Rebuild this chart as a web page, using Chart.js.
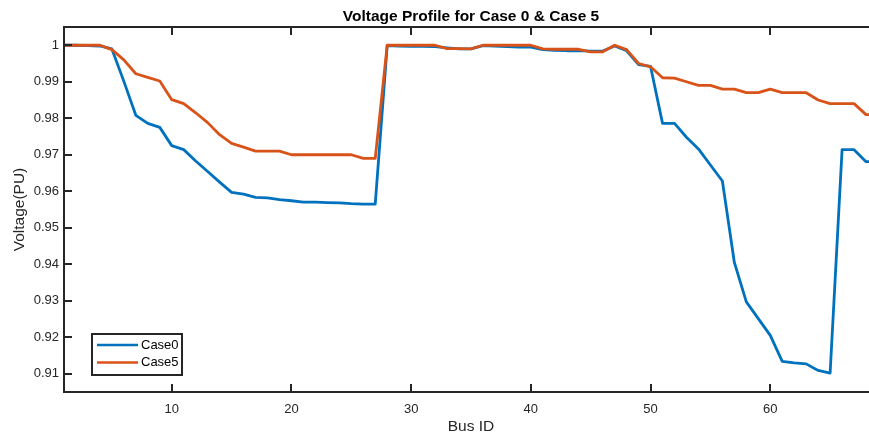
<!DOCTYPE html>
<html>
<head>
<meta charset="utf-8">
<title>Voltage Profile</title>
<script src="https://cdn.jsdelivr.net/npm/chart.js@4.4.1/dist/chart.umd.min.js"></script>
<style>
    html, body { margin: 0; padding: 0; background: #fff; overflow: hidden; }
    #wrap { width: 879px; height: 436px; position: relative; }
</style>
</head>
<body>
<div id="wrap"><canvas id="perfil"></canvas></div>
<script>
const busIds = [
    1, 2, 3, 4, 5, 6, 7, 8, 9, 10, 11, 12, 13, 14, 15, 16, 17, 18, 19, 20,
    21, 22, 23, 24, 25, 26, 27, 28, 29, 30, 31, 32, 33, 34, 35, 36, 37, 38, 39, 40,
    41, 42, 43, 44, 45, 46, 47, 48, 49, 50, 51, 52, 53, 54, 55, 56, 57, 58, 59, 60,
    61, 62, 63, 64, 65, 66, 67, 68, 69
];

const case0 = [
    1.0000, 1.0000, 0.9999, 0.9998, 0.9990, 0.9901, 0.9808, 0.9786, 0.9775, 0.9725,
    0.9714, 0.9683, 0.9654, 0.9625, 0.9597, 0.9592, 0.9583, 0.9582, 0.9577, 0.9574,
    0.9570, 0.9570, 0.9569, 0.9568, 0.9566, 0.9565, 0.9565, 0.9999, 0.9998, 0.9997,
    0.9997, 0.9996, 0.9993, 0.9990, 0.9990, 0.9999, 0.9998, 0.9996, 0.9995, 0.9995,
    0.9988, 0.9986, 0.9985, 0.9985, 0.9984, 0.9984, 0.9998, 0.9985, 0.9947, 0.9942,
    0.9786, 0.9786, 0.9748, 0.9716, 0.9672, 0.9628, 0.9405, 0.9297, 0.9251, 0.9205,
    0.9134, 0.9130, 0.9127, 0.9109, 0.9102, 0.9714, 0.9714, 0.9681, 0.9681
];

const case5 = [
    1.0000, 1.0000, 1.0000, 1.0000, 0.9988, 0.9960, 0.9922, 0.9912, 0.9902, 0.9851,
    0.9840, 0.9815, 0.9788, 0.9755, 0.9731, 0.9721, 0.9710, 0.9710, 0.9710, 0.9700,
    0.9700, 0.9700, 0.9700, 0.9700, 0.9700, 0.9690, 0.9690, 1.0000, 1.0000, 1.0000,
    1.0000, 1.0000, 0.9991, 0.9991, 0.9990, 1.0000, 1.0000, 1.0000, 1.0000, 1.0000,
    0.9990, 0.9989, 0.9989, 0.9989, 0.9982, 0.9982, 1.0000, 0.9988, 0.9950, 0.9941,
    0.9911, 0.9910, 0.9900, 0.9890, 0.9890, 0.9880, 0.9880, 0.9870, 0.9870, 0.9880,
    0.9870, 0.9870, 0.9870, 0.9850, 0.9840, 0.9840, 0.9840, 0.9810, 0.9810
];

const xTicks = [10, 20, 30, 40, 50, 60];
const yTicks = [0.91, 0.92, 0.93, 0.94, 0.95, 0.96, 0.97, 0.98, 0.99, 1];
const yTickLabels = ['0.91', '0.92', '0.93', '0.94', '0.95', '0.96', '0.97', '0.98', '0.99', '1'];

const EJE = '#262626';
const FUENTE = "'Liberation Sans', Arial, sans-serif";

function puntos(valores) {
    return busIds.map((b, i) => ({ x: b, y: valores[i] }));
}

// caja de ejes estilo matlab: borde completo y marcas hacia adentro
const marcoEjes = {
    id: 'marcoEjes',
    afterDatasetsDraw(chart) {
        const { ctx, chartArea: a, scales } = chart;
        ctx.save();
        ctx.strokeStyle = EJE;
        ctx.lineWidth = 2;
        ctx.strokeRect(a.left, a.top, a.right - a.left, a.bottom - a.top);
        ctx.beginPath();
        xTicks.forEach(v => {
            const px = Math.round(scales.x.getPixelForValue(v));
            ctx.moveTo(px, a.bottom); ctx.lineTo(px, a.bottom - 8);
            ctx.moveTo(px, a.top); ctx.lineTo(px, a.top + 8);
        });
        yTicks.forEach(v => {
            const py = Math.round(scales.y.getPixelForValue(v));
            ctx.moveTo(a.left, py); ctx.lineTo(a.left + 8, py);
            ctx.moveTo(a.right, py); ctx.lineTo(a.right - 8, py);
        });
        ctx.stroke();
        ctx.restore();
    }
};

// leyenda dentro del area, abajo a la izquierda
const leyendaCaja = {
    id: 'leyendaCaja',
    afterDraw(chart) {
        const { ctx, chartArea: a } = chart;
        const x0 = a.left + 28, y1 = a.bottom - 17;
        const w = 90, h = 41;
        const y0 = y1 - h;
        ctx.save();
        ctx.fillStyle = '#fff';
        ctx.fillRect(x0, y0, w, h);
        ctx.strokeStyle = EJE;
        ctx.lineWidth = 2;
        ctx.strokeRect(x0, y0, w, h);
        ctx.font = '13px ' + FUENTE;
        ctx.textBaseline = 'middle';
        chart.data.datasets.forEach((ds, i) => {
            const yy = y0 + 11 + i * 17.5;
            ctx.strokeStyle = ds.borderColor;
            ctx.lineWidth = 2.6;
            ctx.beginPath();
            ctx.moveTo(x0 + 5, yy);
            ctx.lineTo(x0 + 46, yy);
            ctx.stroke();
            ctx.fillStyle = '#000';
            ctx.fillText(ds.label, x0 + 49, yy);
        });
        ctx.restore();
    }
};

new Chart(document.getElementById('perfil'), {
    type: 'line',
    data: {
        datasets: [
            {
                label: 'Case0',
                data: puntos(case0),
                borderColor: '#0072BD',
                borderWidth: 2.8,
                pointRadius: 0,
                tension: 0,
                borderJoinStyle: 'round',
                order: 1
            },
            {
                label: 'Case5',
                data: puntos(case5),
                borderColor: '#D95319',
                borderWidth: 2.8,
                pointRadius: 0,
                tension: 0,
                borderJoinStyle: 'round',
                order: 0
            }
        ]
    },
    options: {
        responsive: true,
        maintainAspectRatio: false,
        animation: false,
        layout: { padding: { right: 1 } },
        plugins: {
            legend: { display: false },
            tooltip: { enabled: false },
            title: {
                display: true,
                text: 'Voltage Profile for Case 0 & Case 5',
                fullSize: false,
                color: '#000',
                font: { family: FUENTE, size: 15.5, weight: 'bold' },
                padding: { top: 7, bottom: 1.4 }
            }
        },
        scales: {
            x: {
                type: 'linear',
                min: 1,
                max: 69,
                afterFit: s => { s.height = 44; },
                afterBuildTicks: s => { s.ticks = xTicks.map(v => ({ value: v })); },
                grid: { display: false, drawTicks: false },
                border: { display: false },
                ticks: { color: EJE, padding: 10, font: { family: FUENTE, size: 13 } },
                title: {
                    display: true,
                    text: 'Bus ID',
                    color: EJE,
                    font: { family: FUENTE, size: 15.5 },
                    padding: { top: 0, bottom: 0 }
                }
            },
            y: {
                min: 0.905,
                max: 1.005,
                afterFit: s => { s.width = 64; },
                afterBuildTicks: s => { s.ticks = yTicks.map(v => ({ value: v })); },
                grid: { display: false, drawTicks: false },
                border: { display: false },
                ticks: {
                    color: EJE,
                    padding: 5,
                    font: { family: FUENTE, size: 13 },
                    callback: (v) => yTickLabels[yTicks.indexOf(v)] ?? ''
                },
                title: {
                    display: true,
                    text: 'Voltage(PU)',
                    color: EJE,
                    font: { family: FUENTE, size: 15.5 },
                    padding: { top: 10.5, bottom: 0 }
                }
            }
        }
    },
    plugins: [marcoEjes, leyendaCaja]
});
</script>
</body>
</html>
